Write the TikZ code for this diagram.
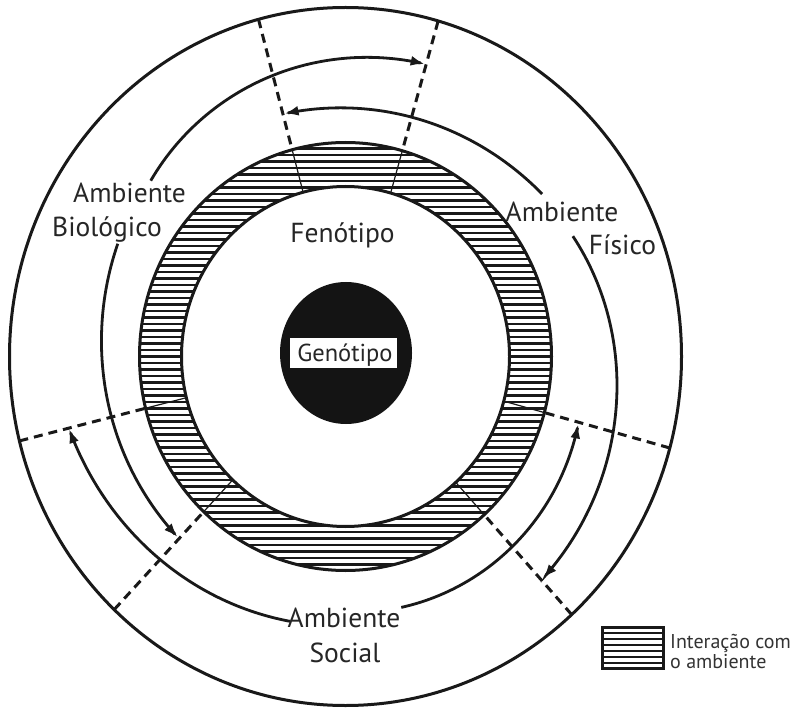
\documentclass[tikz,border=0pt]{standalone}
\usepackage{fontspec}
\setmainfont{PT Sans}
\usetikzlibrary{arrows.meta}
\begin{document}
\begin{tikzpicture}[x=1pt,y=-1pt,
  lbl/.style={font=\fontsize{27.5}{29}\selectfont, text=black!85, inner sep=0pt, anchor=base},
  leg/.style={font=\fontsize{20}{22}\selectfont, text=black!80, inner sep=0pt, anchor=base west},
  ring/.style={line width=3pt, draw=black!90},
  track/.style={line width=2.8pt, draw=black!90},
  tipS/.style={{Latex[length=14pt,width=10pt]}-},
  sep/.style={line width=3pt, dash pattern=on 9pt off 6pt, draw=black!90},
  sepband/.style={line width=1.2pt, draw=black!90}]
\useasboundingbox (0,0) rectangle (792,708);
\fill[white] (0,0) rectangle (792,708);
\begin{scope}[shift={(345.5pt,-356.5pt)}, x=0.963pt, y=1pt]
  % hatched ring
  \begin{scope}
    \clip (0,0) ellipse[x radius=206pt, y radius=214pt];
    \foreach \k in {-35,...,35}
      \draw[line width=2.4pt, black!90] (-230pt,\k*6.5pt) -- (230pt,\k*6.5pt);
  \end{scope}
  \fill[white] (0,0) ellipse[x radius=164pt, y radius=170pt];
  \draw[ring] (0,0) ellipse[x radius=206pt, y radius=214pt];
  \draw[ring] (0,0) ellipse[x radius=164pt, y radius=170pt];
  % outer circle
  \draw[ring] (0,0) ellipse[x radius=336pt, y radius=349pt];
  % sector separators
  \foreach \a in {105,74,194,226.5,-15.2,-47.7} {
    \draw[sep] (\a:349) -- (\a:214);
    \draw[sepband] (\a:214) -- (\a:170);
  }
  % genotype
  \fill[black!92] (0.5pt,3.5pt) ellipse[x radius=66pt, y radius=71pt];
  \fill[white] (-55.5pt,-11.5pt) rectangle (51.5pt,18.5pt);
  % tracks (arrow tip at the start of each plot)
  \draw[track,tipS] plot[domain=74.3:139, samples=80, smooth]
    (\x:{290.5-0.55*(\x-106)-0.004*(\x-106)^2});
  \draw[track,tipS] plot[domain=104.6:38.5, samples=80, smooth]
    (\x:{249-0.1213*(\x-74)+0.0061*(\x-74)^2});
  \draw[track,tipS] plot[domain=226:154.5, samples=80, smooth]
    (\x:{253-0.2426*(\x-180)+0.004328*(\x-180)^2});
  \draw[track,tipS] plot[domain=194.2:257.8, samples=80, smooth]
    (\x:{280-0.393*(\x-226)+0.00346*(\x-226)^2});
  \draw[track,tipS] plot[domain=-47.2:27, samples=80, smooth]
    (\x:{285-0.503*(\x+9)-0.00146*(\x+9)^2});
  \draw[track,tipS] plot[domain=-15.7:-77, samples=80, smooth]
    (\x:{257-0.108*(\x+46)-0.002967*(\x+46)^2});
\end{scope}
% labels
\node[lbl] (bioA) at (129.5,203) {Ambiente};
\node[lbl] (bioB) at (107,237) {Biológico};
\node[lbl] (feno) at (342.5,243) {Fenótipo};
\node[lbl, font=\fontsize{24.5}{26}\selectfont] (geno) at (345,361) {Genótipo};
\node[lbl] (fisA) at (562,222) {Ambiente};
\node[lbl] (fisB) at (622.5,255) {Físico};
\node[lbl] (socA) at (344,627) {Ambiente};
\node[lbl] (socB) at (345,662) {Social};
% legend
\fill[white] (602,627) rectangle (663,668);
\foreach \yy in {633,639,...,663}
  \draw[line width=1.8pt, black!90] (602,\yy) -- (663,\yy);
\draw[line width=3pt, black!90] (602,627) rectangle (663,668);
\node[leg] (legA) at (670,648) {Interação com};
\node[leg] (legB) at (670,668) {o ambiente};
\end{tikzpicture}
\end{document}
